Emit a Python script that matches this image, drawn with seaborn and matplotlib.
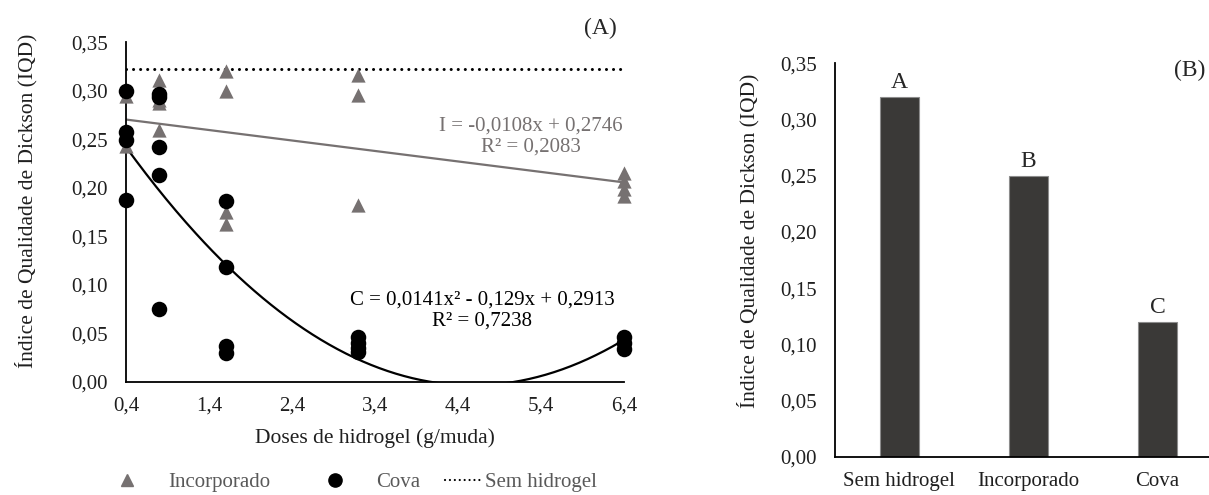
import matplotlib
matplotlib.use('Agg')
import matplotlib.pyplot as plt
from matplotlib.lines import Line2D
from matplotlib.ticker import FuncFormatter
import seaborn as sns
import numpy as np
import pandas as pd

# --- data ---
doses_inc = [0.4, 0.4, 0.8, 0.8, 0.8, 0.8, 0.8, 1.6, 1.6, 1.6, 1.6,
             3.2, 3.2, 3.2, 6.4, 6.4, 6.4, 6.4]
iqd_inc = [0.295, 0.243, 0.311, 0.300, 0.290, 0.287, 0.260, 0.320, 0.300, 0.175, 0.163,
           0.316, 0.296, 0.182, 0.215, 0.207, 0.199, 0.191]
doses_cova = [0.4, 0.4, 0.4, 0.4, 0.8, 0.8, 0.8, 0.8, 0.8, 1.6, 1.6, 1.6, 1.6,
              3.2, 3.2, 3.2, 3.2, 6.4, 6.4, 6.4]
iqd_cova = [0.300, 0.257, 0.249, 0.187, 0.297, 0.294, 0.242, 0.213, 0.075,
            0.186, 0.118, 0.037, 0.030, 0.046, 0.040, 0.035, 0.031, 0.046, 0.040, 0.034]
sem_hidrogel = 0.322

coef_inc = [-0.0108, 0.2746]           # I = a x + b
coef_cova = [0.0141, -0.129, 0.2913]   # C = a x2 + b x + c

bar_cats = ['Sem hidrogel', 'Incorporado', 'Cova']
bar_vals = [0.32, 0.25, 0.12]
bar_letters = ['A', 'B', 'C']

x_ticks = [0.4, 1.4, 2.4, 3.4, 4.4, 5.4, 6.4]
y_ticks = [0.00, 0.05, 0.10, 0.15, 0.20, 0.25, 0.30, 0.35]

GRAY = '#767171'
DARK = '#3a3937'
TXT = '#1f1f1f'
FS = 15
FS_LAB = 15.5
FS_BIG = 17

sns.set_theme(style='white')
plt.rcParams['font.family'] = ['Liberation Serif', 'DejaVu Serif']
plt.rcParams['axes.linewidth'] = 1.3
plt.rcParams['axes.edgecolor'] = 'black'

comma2 = FuncFormatter(lambda v, p: f'{v:.2f}'.replace('.', ','))
comma1 = FuncFormatter(lambda v, p: f'{v:.1f}'.replace('.', ','))

fig = plt.figure(figsize=(12.09, 4.95), dpi=100)
ax1 = fig.add_axes([0.1042, 0.2289, 0.4120, 0.6858])
ax2 = fig.add_axes([0.6906, 0.0774, 0.3094, 0.7947])

# --- panel A ---
df_inc = pd.DataFrame({'dose': doses_inc, 'iqd': iqd_inc})
df_cova = pd.DataFrame({'dose': doses_cova, 'iqd': iqd_cova})

sns.scatterplot(data=df_inc, x='dose', y='iqd', marker='^', s=105, color=GRAY,
                edgecolor=GRAY, linewidth=0, ax=ax1, clip_on=False, zorder=3)
sns.scatterplot(data=df_cova, x='dose', y='iqd', marker='o', s=125, color='black',
                edgecolor='black', linewidth=0, ax=ax1, clip_on=False, zorder=4)

xs = np.linspace(min(x_ticks), max(x_ticks), 300)
ax1.plot(xs, np.polyval(coef_inc, xs), color=GRAY, lw=1.6, zorder=2)
ax1.plot(xs, np.polyval(coef_cova, xs), color='black', lw=1.6, zorder=2)
ax1.plot([min(x_ticks), max(x_ticks)], [sem_hidrogel, sem_hidrogel], color='black',
         lw=2.2, linestyle=(0, (0.01, 2.3)), dash_capstyle='round', zorder=2)

ax1.text(5.28, 0.253, 'I = -0,0108x + 0,2746\nR² = 0,2083', color=GRAY, fontsize=FS,
         ha='center', va='center', linespacing=1.15)
ax1.text(4.69, 0.073, 'C = 0,0141x² - 0,129x + 0,2913\nR² = 0,7238', color='black',
         fontsize=FS, ha='center', va='center', linespacing=1.15)
ax1.text(0.952, 1.042, '(A)', transform=ax1.transAxes, fontsize=FS_BIG,
         ha='center', va='center')

ax1.set_xlim(0.4, 6.4)
ax1.set_ylim(0, 0.35)
ax1.set_xticks(x_ticks)
ax1.set_yticks(y_ticks)
ax1.xaxis.set_major_formatter(comma1)
ax1.yaxis.set_major_formatter(comma2)
ax1.set_xlabel('Doses de hidrogel (g/muda)', fontsize=FS_LAB, color=TXT, labelpad=9)
ax1.set_ylabel('Índice de Qualidade de Dickson (IQD)', fontsize=FS_LAB, color=TXT)
ax1.yaxis.set_label_coords(-0.178, 0.534)
ax1.tick_params(length=0, labelsize=FS, labelcolor=TXT)
ax1.tick_params(axis='y', pad=13)
ax1.tick_params(axis='x', pad=11)
sns.despine(ax=ax1)

h_inc = Line2D([], [], marker='^', color=GRAY, linestyle='none', markersize=8.5)
h_cov = Line2D([], [], marker='o', color='black', linestyle='none', markersize=9.5)
fig.legend([h_inc, h_cov], ['Incorporado', 'Cova'], ncol=2, frameon=False,
           loc='center left', bbox_to_anchor=(0.0885, 0.026), fontsize=FS,
           handlelength=1.92, handletextpad=1.0, columnspacing=2.16,
           labelcolor='#595959', borderpad=0, borderaxespad=0)
h_sem = Line2D([], [], color='black', lw=1.6, linestyle=(0, (0.01, 2.2)),
               dash_capstyle='round')
fig.legend([h_sem], ['Sem hidrogel'], frameon=False, loc='center left',
           bbox_to_anchor=(0.368, 0.026), fontsize=FS, handlelength=1.83,
           handletextpad=0.1, labelcolor='#595959', borderpad=0, borderaxespad=0)

# --- panel B ---
df_bar = pd.DataFrame({'trat': bar_cats, 'iqd': bar_vals})
sns.barplot(data=df_bar, x='trat', y='iqd', color=DARK, width=0.305, ax=ax2,
            edgecolor='#8c8c8c', linewidth=0.8, saturation=1)
for i, (v, lab) in enumerate(zip(bar_vals, bar_letters)):
    ax2.annotate(lab, (i, v), xytext=(0, 3), textcoords='offset points',
                 ha='center', va='bottom', fontsize=FS_BIG)
ax2.text(0.949, 0.983, '(B)', transform=ax2.transAxes, fontsize=FS_BIG,
         ha='center', va='center')

ax2.set_xlim(-0.5, 2.4)
ax2.set_ylim(0, 0.35)
ax2.set_yticks(y_ticks)
ax2.yaxis.set_major_formatter(comma2)
ax2.set_xlabel('')
ax2.set_ylabel('Índice de Qualidade de Dickson (IQD)', fontsize=FS_LAB, color=TXT)
ax2.yaxis.set_label_coords(-0.2005, 0.548)
ax2.tick_params(length=0, labelsize=FS, labelcolor=TXT)
ax2.tick_params(axis='y', pad=13)
ax2.tick_params(axis='x', pad=11)
sns.despine(ax=ax2)

fig.savefig('out.png', dpi=100)
